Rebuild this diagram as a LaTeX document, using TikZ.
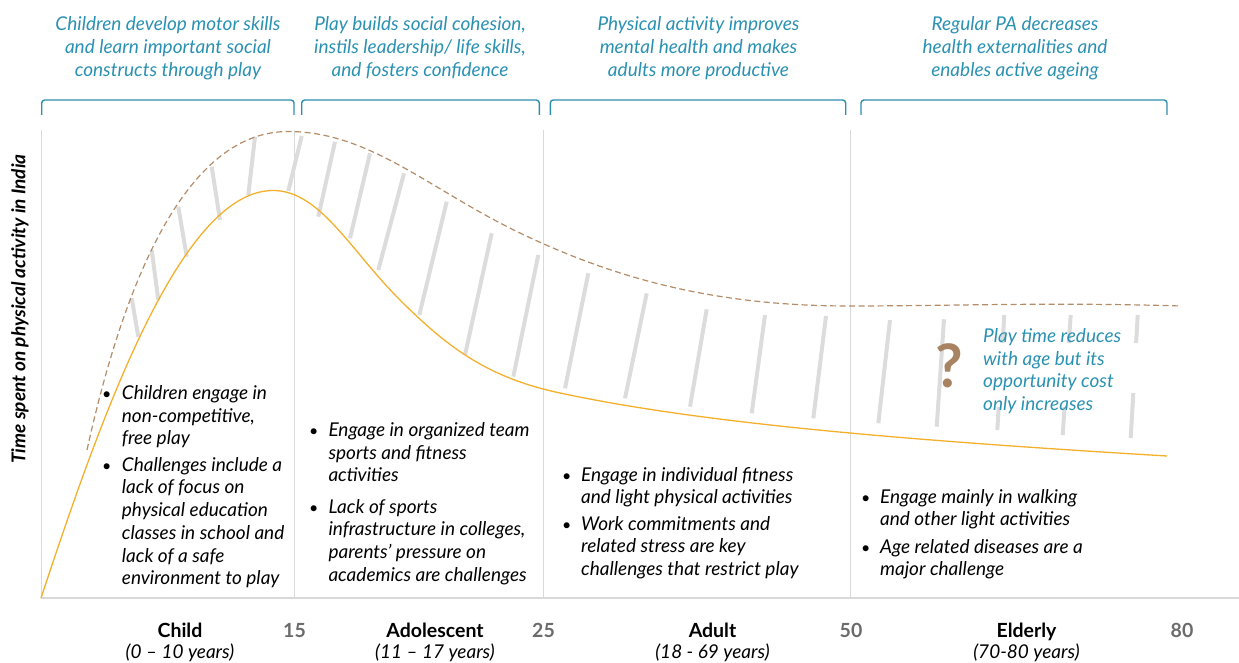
\documentclass[tikz,border=0pt]{standalone}
\usepackage{fontspec}
\setmainfont{Lato}
\definecolor{hdcol}{HTML}{2A91B2}
\definecolor{brcol}{HTML}{2C8EAD}
\definecolor{dashcol}{HTML}{B48C68}
\definecolor{orcol}{HTML}{F4B02C}
\definecolor{hatchcol}{HTML}{DCDCDC}
\definecolor{gridcol}{HTML}{D9D9D9}
\definecolor{numcol}{HTML}{6B6B6B}
\definecolor{qcol}{HTML}{A88361}
\newcommand{\Lines}[1]{\begin{tabular}[t]{@{}l@{}}#1\end{tabular}}
\newcommand{\CLines}[1]{\begin{tabular}[t]{@{}c@{}}#1\end{tabular}}
\begin{document}
\begin{tikzpicture}[x=1pt,y=-1pt,
  hdr/.style={text=hdcol, font=\fontsize{19}{22.7}\selectfont\itshape, anchor=base, inner sep=0},
  body/.style={font=\fontsize{19}{22.7}\selectfont\itshape, anchor=base west, inner sep=0},
  bul/.style={font=\fontsize{16}{22.7}\selectfont, anchor=base west, inner sep=0},
  bracket/.style={draw=brcol, line width=1.4pt, rounded corners=3pt},
  grid/.style={draw=gridcol, line width=1pt},
  hatch/.style={draw=hatchcol, line width=4pt},
  stage/.style={font=\fontsize{19.5}{22}\selectfont\bfseries, anchor=base, inner sep=0},
  years/.style={font=\fontsize{19}{22}\selectfont\itshape, anchor=base, inner sep=0},
  num/.style={text=numcol, font=\fontsize{19.5}{22}\selectfont\bfseries, anchor=base, inner sep=0}]
\useasboundingbox (0,0) rectangle (1239,663);

% grid / axes
\draw[grid] (41,130) -- (41,598);
\draw[grid] (294,130) -- (294,598);
\draw[grid] (543,130) -- (543,598);
\draw[grid] (850,130) -- (850,598);
\draw[draw=gridcol, line width=2pt] (41,598) -- (1239,598);

% brackets
\draw[bracket] (41.7,115) -- (41.7,100) -- (294,100) -- (294,115);
\draw[bracket] (301.7,115) -- (301.7,100) -- (539.3,100) -- (539.3,115);
\draw[bracket] (550.3,115) -- (550.3,100) -- (845.7,100) -- (845.7,115);
\draw[bracket] (861,115) -- (861,100) -- (1167,100) -- (1167,115);

% headers
\node[hdr] (h1) at (168,30.8) {\CLines{Children develop motor skills\\and learn important social\\constructs through play}};
\node[hdr] (h2) at (420,30.8) {\CLines{Play builds social cohesion,\\instils leadership/ life skills,\\and fosters confidence}};
\node[hdr] (h3) at (698.5,30.8) {\CLines{Physical activity improves\\mental health and makes\\adults more productive}};
\node[hdr] (h4) at (1015,30.8) {\CLines{Regular PA decreases\\health externalities and\\enables active ageing}};

% hatches
\foreach \ax/\ay/\bx/\by in {
  131.7/298.3/138.3/336.7, 151.7/250/158.3/300, 178.3/206.7/186.7/256.7,
  211.7/166.7/220/220, 255/136.7/248.3/195, 301.7/136/288.3/191,
  335/141.7/318.3/216.7, 370/153.3/350/238.3, 404/173.3/378.3/270,
  446.7/201.7/419.3/315, 491.7/233.3/465/355, 538.3/255/513.3/376.7,
  588.3/273.3/565/388.3, 646.7/293.3/625/398.3, 706.7/309.3/690/406.7,
  765/315/751.7/413.3, 826/316/813.3/418.3, 890/320/878.3/423.3,
  944/319.3/936.7/426.7,
  1004.3/315/1002.6/343, 998.7/407/997.3/430,
  1070.7/315/1068.8/343, 1064.6/407/1062.7/435,
  1137.7/315/1136.1/343, 1133.3/393/1130.7/438}
  \draw[hatch] (\ax,\ay) -- (\bx,\by);

% curves
\coordinate (dA) at (87,450);
\coordinate (dP) at (288,131.5);
\coordinate (dM) at (520,233);
\coordinate (dF) at (850,306);
\coordinate (dE) at (1181,306);
\draw[dashcol, line width=1.2pt, dash pattern=on 6pt off 3.5pt]
  (dA) .. controls (120,300) and (180,131.5) .. (dP)
       .. controls (370,131.5) and (430,190) .. (dM)
       .. controls (620,281) and (720,306) .. (dF)
       .. controls (950,306) and (1050,302) .. (dE);
\coordinate (oA) at (41,598);
\coordinate (oP) at (273,190.5);
\coordinate (oI) at (400,300);
\coordinate (oM) at (560,393);
\coordinate (oE) at (1167,456);
\draw[orcol, line width=1.3pt]
  (oA) .. controls (100,420) and (180,190.5) .. (oP)
       .. controls (320,190.5) and (350,250) .. (oI)
       .. controls (450,350) and (490,378) .. (oM)
       .. controls (700,423) and (900,440) .. (oE);

% question mark and note
\node[text=qcol, font=\fontsize{60}{62}\selectfont\bfseries, anchor=base, inner sep=0] (q) at (949,387) {?};
\node[hdr, anchor=base west] (note) at (983,342.3) {\Lines{Play time reduces\\with age but its\\opportunity cost\\only increases}};

% y-axis label
\node[rotate=90, font=\fontsize{19}{22}\selectfont\bfseries\itshape, inner sep=0] (ylab) at (20,309) {Time spent on physical activity in India};

% column 1
\node[bul] (b11) at (102,399.5) {•};
\node[body] (t11) at (121.7,399.5) {\Lines{Children engage in\\non-competitive,\\free play}};
\node[bul] (b12) at (102,471.2) {•};
\node[body] (t12) at (121.7,471.2) {\Lines{Challenges include a\\lack of focus on\\physical education\\classes in school and\\lack of a safe\\environment to play}};
% column 2
\node[bul] (b21) at (309,436.5) {•};
\node[body] (t21) at (328.3,436.5) {\Lines{Engage in organized team\\sports and fitness\\activities}};
\node[bul] (b22) at (309,513) {•};
\node[body] (t22) at (328.3,513) {\Lines{Lack of sports\\infrastructure in colleges,\\parents’ pressure on\\academics are challenges}};
% column 3
\node[bul] (b31) at (562,481.2) {•};
\node[body] (t31) at (581,481.2) {\Lines{Engage in individual fitness\\and light physical activities}};
\node[bul] (b32) at (562,530.2) {•};
\node[body] (t32) at (581,530.2) {\Lines{Work commitments and\\related stress are key\\challenges that restrict play}};
% column 4
\node[bul] (b41) at (861,503.2) {•};
\node[body] (t41) at (880,503.2) {\Lines{Engage mainly in walking\\and other light activities}};
\node[bul] (b42) at (861,553.2) {•};
\node[body] (t42) at (880,553.2) {\Lines{Age related diseases are a\\major challenge}};

% bottom labels
\node[stage] (s1) at (180,637) {Child};
\node[years] (y1) at (180,658.5) {(0 – 10 years)};
\node[num] (n15) at (294.5,637) {15};
\node[stage] (s2) at (435,637) {Adolescent};
\node[years] (y2) at (435,658.5) {(11 – 17 years)};
\node[num] (n25) at (543.5,637) {25};
\node[stage] (s3) at (712.5,637) {Adult};
\node[years] (y3) at (712.5,658.5) {(18 - 69 years)};
\node[num] (n50) at (851,637) {50};
\node[stage] (s4) at (1026.5,637) {Elderly};
\node[years] (y4) at (1026.5,658.5) {(70-80 years)};
\node[num] (n80) at (1182,637) {80};
\end{tikzpicture}
\end{document}
